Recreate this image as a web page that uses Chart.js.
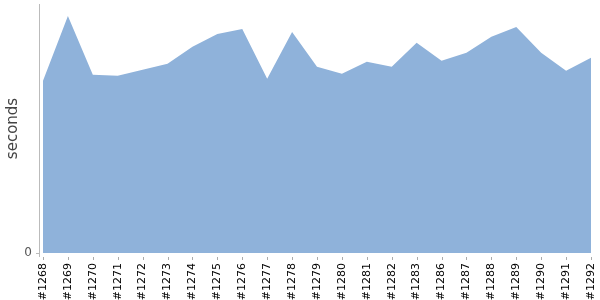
<!DOCTYPE html>
<html>
<head>
<meta charset="utf-8">
<script src="https://cdn.jsdelivr.net/npm/chart.js@4"></script>
<style>
  html, body { margin: 0; padding: 0; background: #fff; }
  #wrap { width: 600px; height: 300px; }
</style>
</head>
<body>
<div id="wrap"><canvas id="chart"></canvas></div>
<script>
// build numbers on the x axis
const builds = ['#1268', '#1269', '#1270', '#1271', '#1272', '#1273', '#1274', '#1275',
  '#1276', '#1277', '#1278', '#1279', '#1280', '#1281', '#1282', '#1283', '#1286',
  '#1287', '#1288', '#1289', '#1290', '#1291', '#1292'];

// duration per build (seconds)
const durations = [17.3, 23.8, 17.9, 17.8, 18.4, 19.0, 20.7, 22.0, 22.5, 17.5, 22.2,
  18.7, 18.0, 19.2, 18.7, 21.1, 19.3, 20.1, 21.7, 22.7, 20.1, 18.3, 19.6];

const yTicks = [0];

const font = { family: 'DejaVu Sans', size: 11 };
const axisGap = 4; // axes sit a few px away from the plot area

// axis lines drawn slightly detached from the data area
const offsetAxes = {
  id: 'offsetAxes',
  afterDraw(chart) {
    const { ctx, chartArea: a, scales: { x, y } } = chart;
    ctx.save();
    ctx.strokeStyle = '#bbb';
    ctx.lineWidth = 1;
    // y axis line
    ctx.beginPath();
    ctx.moveTo(a.left - axisGap + 0.5, a.top);
    ctx.lineTo(a.left - axisGap + 0.5, a.bottom + axisGap);
    ctx.stroke();
    // 0 tick
    ctx.beginPath();
    ctx.moveTo(a.left - axisGap - 3, y.getPixelForValue(0) + 0.5);
    ctx.lineTo(a.left - axisGap, y.getPixelForValue(0) + 0.5);
    ctx.stroke();
    // x axis ticks
    ctx.strokeStyle = '#aaa';
    x.ticks.forEach((t, i) => {
      const px = Math.round(x.getPixelForTick(i)) + 0.5;
      ctx.beginPath();
      ctx.moveTo(px, a.bottom + axisGap);
      ctx.lineTo(px, a.bottom + axisGap + 3);
      ctx.stroke();
    });
    ctx.restore();
  }
};

new Chart(document.getElementById('chart'), {
  type: 'line',
  data: {
    labels: builds,
    datasets: [{
      label: 'seconds',
      data: durations,
      fill: 'origin',
      backgroundColor: '#8fb2da',
      borderWidth: 0,
      borderColor: '#8fb2da',
      pointRadius: 0,
      tension: 0
    }]
  },
  options: {
    responsive: true,
    maintainAspectRatio: false,
    animation: false,
    layout: { padding: { top: 4, right: 9, left: 0, bottom: 0 } },
    plugins: {
      legend: { display: false },
      tooltip: { enabled: false }
    },
    scales: {
      x: {
        offset: false,
        grid: { display: false, drawTicks: false },
        border: { display: false },
        ticks: {
          autoSkip: false,
          minRotation: 90,
          maxRotation: 90,
          color: '#000',
          font: font,
          padding: 10
        },
        afterFit: (scale) => {
          scale.height = 47;
          scale.paddingLeft = 0;
          scale.paddingRight = 0;
        }
      },
      y: {
        min: 0,
        max: 25,
        afterBuildTicks: (scale) => {
          scale.ticks = yTicks.map(v => ({ value: v }));
        },
        grid: { display: false, drawTicks: false },
        border: { display: false },
        ticks: {
          color: '#555',
          font: { family: 'DejaVu Sans', size: 12 },
          padding: 11
        },
        title: {
          display: true,
          text: 'seconds',
          color: '#444',
          font: { family: 'DejaVu Sans', size: 15 },
          padding: { top: 4, bottom: 0 }
        },
        afterFit: (scale) => {
          scale.width = 43;
          scale.paddingTop = 0;
          scale.paddingBottom = 0;
        }
      }
    }
  },
  plugins: [offsetAxes]
});
</script>
</body>
</html>
